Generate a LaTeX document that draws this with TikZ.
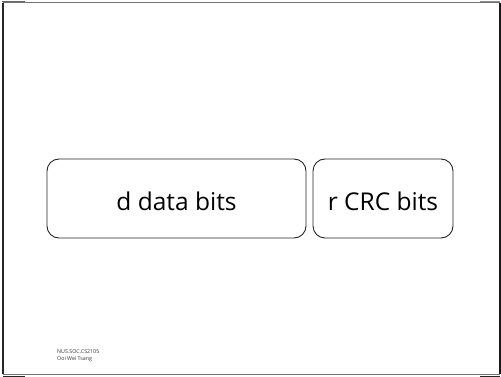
\documentclass[tikz,border=0pt]{standalone}
\usepackage{fontspec}
\setmainfont{Open Sans}
\begin{document}
\begin{tikzpicture}[x=1pt,y=-1pt,
  field/.style={draw=black!85, line width=0.9pt, rounded corners=12pt, inner sep=0pt,
    font=\fontsize{24.5}{28}\selectfont, text=black, text depth=0pt, text height=25pt},
  footer/.style={font=\fontsize{5.3}{6}\selectfont, text=black!80, anchor=west, inner sep=0pt}]
  \useasboundingbox (0,0) rectangle (501,377);
  % slide frame
  \draw[black!55, line width=1pt] (3,3) -- (500,3);
  \draw[black!55, line width=1pt] (3,374) -- (500,374);
  \draw[black!85, line width=1.2pt] (3,3) -- (3,374);
  \draw[black!90, line width=1.2pt] (500,3) -- (500,374);
  % corner ticks
  \draw[black!60, line width=1pt] (2,1.5) -- (25,1.5);
  \draw[black!85, line width=1pt] (3,376) -- (25,376);
  \draw[black!85, line width=1pt] (480,376) -- (500,376);
  \draw[black!45, line width=1pt] (480,1.5) -- (500,1.5);
  % frame fields
  \node[field, minimum width=259pt, minimum height=79pt] (data) at (176.5,198.5) {d data bits};
  \node[field, minimum width=140pt, minimum height=79pt] (crc) at (383,198.5) {r CRC bits};
  % footer
  \node[footer] (course) at (57,352) {NUS.SOC.CS2105};
  \node[footer] (author) at (57,359) {Ooi Wei Tsang};
\end{tikzpicture}
\end{document}
